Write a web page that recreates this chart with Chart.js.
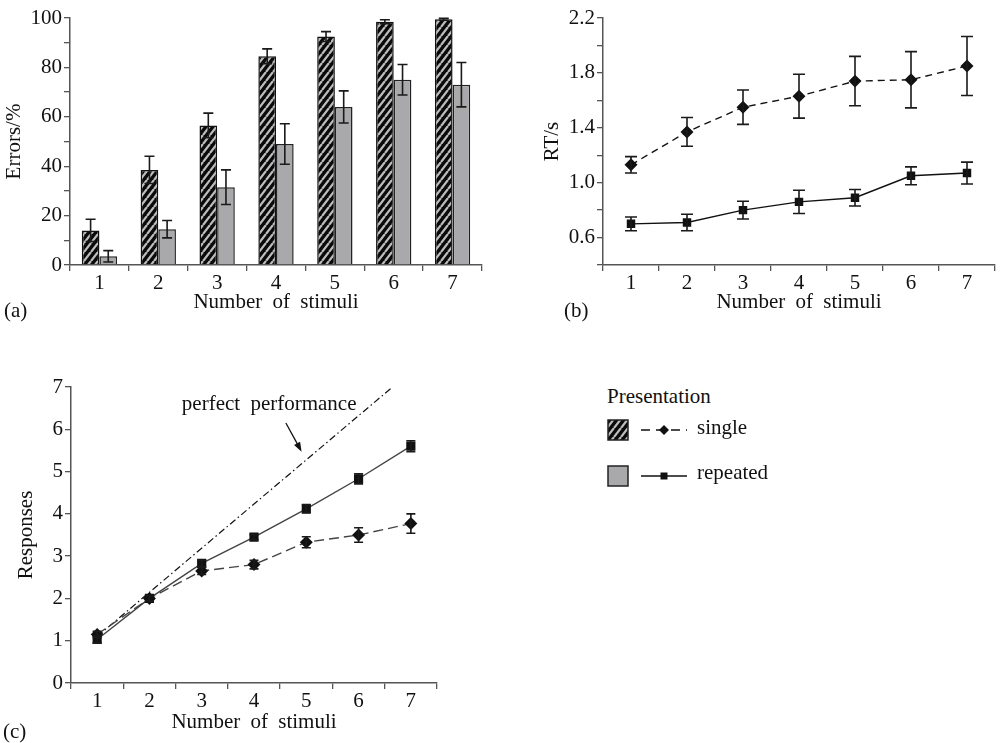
<!DOCTYPE html>
<html>
<head>
<meta charset="utf-8">
<script src="https://cdn.jsdelivr.net/npm/chart.js@4.4.1/dist/chart.umd.min.js"></script>
<style>
  body { margin: 0; background: #fff; width: 1005px; height: 743px; position: relative; overflow: hidden;
         font-family: "Liberation Serif", "Times New Roman", serif; color: #111; }
  canvas { position: absolute; }
  .lbl { position: absolute; font-size: 21px; word-spacing: 5px; line-height: 21px; white-space: nowrap; }
</style>
</head>
<body>
<canvas id="chartA" width="500" height="320" style="left:0;top:0"></canvas>
<canvas id="chartB" width="465" height="320" style="left:540px;top:0"></canvas>
<canvas id="chartC" width="460" height="413" style="left:0;top:330px"></canvas>

<div class="lbl" style="left:4px;top:300px">(a)</div>
<div class="lbl" style="left:564px;top:300px">(b)</div>
<div class="lbl" style="left:3px;top:721px">(c)</div>

<div class="lbl" style="left:607px;top:386px">Presentation</div>
<canvas id="keySingleBox" width="22" height="22" style="left:607px;top:419px"></canvas>
<canvas id="keySingleLine" width="48" height="14" style="left:640px;top:423px"></canvas>
<div class="lbl" style="left:697px;top:417px">single</div>
<canvas id="keyRepBox" width="22" height="22" style="left:607px;top:465px"></canvas>
<canvas id="keyRepLine" width="48" height="14" style="left:640px;top:469px"></canvas>
<div class="lbl" style="left:697px;top:462px">repeated</div>

<script>
var categories = ['1', '2', '3', '4', '5', '6', '7'];

// (a) errors in %
var errSingle = [14, 38.5, 56.5, 84.5, 92.5, 98.5, 99.5];
var errSingleSd = [4.5, 5.5, 5, 3, 2, 0.8, 0.4];
var errRepeated = [3.5, 14.5, 31.5, 49, 64, 75, 73];
var errRepeatedSd = [2.3, 3.5, 7, 8.2, 6.5, 6.2, 9];

// (b) reaction time in s
var rtSingle = [1.13, 1.37, 1.55, 1.63, 1.74, 1.75, 1.85];
var rtSingleSd = [0.06, 0.105, 0.125, 0.16, 0.18, 0.205, 0.215];
var rtRepeated = [0.70, 0.71, 0.80, 0.86, 0.89, 1.05, 1.07];
var rtRepeatedSd = [0.05, 0.06, 0.065, 0.085, 0.06, 0.065, 0.08];

// (c) number of responses
var respSingle = [1.15, 2.0, 2.65, 2.8, 3.33, 3.5, 3.77];
var respSingleSd = [0.07, 0.06, 0.08, 0.1, 0.13, 0.17, 0.23];
var respRepeated = [1.03, 2.0, 2.83, 3.45, 4.12, 4.83, 5.6];
var respRepeatedSd = [0.08, 0.07, 0.07, 0.06, 0.1, 0.12, 0.13];
var perfectX = [1, 6.65];
var perfectY = [1.1, 7];
var noteAt = [4.29, 6.59];
var arrowFrom = [4.61, 6.15];
var arrowTo = [4.91, 5.47];

var ink = '#111';
var axisGrey = '#555';
var barGrey = '#a9a9ab';
var fontFamily = '"Liberation Serif", "Times New Roman", serif';

Chart.defaults.font.family = fontFamily;
Chart.defaults.font.size = 21;
Chart.defaults.color = ink;
Chart.defaults.animation = false;

function hatchPattern() {
  var c = document.createElement('canvas');
  c.width = 7; c.height = 9;
  var g = c.getContext('2d');
  g.fillStyle = '#0a0a0a';
  g.fillRect(0, 0, 7, 9);
  g.strokeStyle = '#bdbdbd';
  g.lineWidth = 2.3;
  g.beginPath();
  for (var k = -1; k <= 1; k++) {
    g.moveTo(k * 7, 9);
    g.lineTo(k * 7 + 7, 0);
  }
  g.stroke();
  return g.createPattern(c, 'repeat');
}
var hatch = hatchPattern();

function setSpacing(ctx) {
  if ('wordSpacing' in ctx) ctx.wordSpacing = '5px';
}
var spacing = {
  id: 'spacing',
  beforeLayout: function(chart) { setSpacing(chart.ctx); },
  beforeDraw: function(chart) { setSpacing(chart.ctx); }
};

var errorBars = {
  id: 'errorBars',
  afterDatasetsDraw: function(chart) {
    var ctx = chart.ctx, ys = chart.scales.y;
    chart.data.datasets.forEach(function(ds, i) {
      if (!ds.errors) return;
      var meta = chart.getDatasetMeta(i);
      var c = ds.capWidth / 2;
      ctx.save();
      ctx.strokeStyle = '#1a1a1a';
      ctx.lineWidth = 1.6;
      meta.data.forEach(function(el, j) {
        var x = el.x;
        var top = ys.getPixelForValue(ds.data[j] + ds.errors[j]);
        var bot = ys.getPixelForValue(ds.data[j] - ds.errors[j]);
        ctx.beginPath();
        ctx.moveTo(x, top); ctx.lineTo(x, bot);
        ctx.moveTo(x - c, top); ctx.lineTo(x + c, top);
        ctx.moveTo(x - c, bot); ctx.lineTo(x + c, bot);
        ctx.stroke();
      });
      ctx.restore();
    });
  }
};

function xAxis(height) {
  return {
    type: 'category',
    offset: true,
    grid: { offset: true, drawOnChartArea: false, tickLength: 6, color: axisGrey, lineWidth: 1.3 },
    border: { color: axisGrey, width: 1.5 },
    ticks: { padding: 0, maxRotation: 0 },
    title: { display: true, text: 'Number of stimuli', padding: 0 },
    afterFit: function(s) { s.height = height; }
  };
}

function yAxis(opts) {
  return {
    min: opts.min, max: opts.max,
    grid: { drawOnChartArea: false, tickLength: 6, color: axisGrey, lineWidth: 1.3 },
    border: { color: axisGrey, width: 1.5 },
    ticks: { stepSize: opts.step, autoSkip: false, padding: 2, callback: opts.label },
    title: { display: true, text: opts.title, padding: { top: opts.titlePad } },
    afterFit: function(s) { s.width = opts.width; }
  };
}

// (a) bar chart
new Chart(document.getElementById('chartA'), {
  type: 'bar',
  data: {
    labels: categories,
    datasets: [
      { label: 'single', data: errSingle, errors: errSingleSd, capWidth: 10,
        backgroundColor: hatch, borderColor: ink, borderWidth: 1.5,
        categoryPercentage: 0.6, barPercentage: 1 },
      { label: 'repeated', data: errRepeated, errors: errRepeatedSd, capWidth: 10,
        backgroundColor: barGrey, borderColor: '#222', borderWidth: 1.5,
        categoryPercentage: 0.6, barPercentage: 1 }
    ]
  },
  options: {
    responsive: false,
    layout: { padding: { left: 0, top: 18, right: 18, bottom: 5 } },
    plugins: { legend: { display: false }, tooltip: { enabled: false } },
    scales: {
      x: xAxis(50),
      y: yAxis({ min: 0, max: 100, step: 10, width: 70, title: 'Errors/%', titlePad: 2,
                 label: function(v) { return v % 20 === 0 ? v : ''; } })
    }
  },
  plugins: [spacing, errorBars]
});

// (b) reaction times
new Chart(document.getElementById('chartB'), {
  type: 'line',
  data: {
    labels: categories,
    datasets: [
      { label: 'single', data: rtSingle, errors: rtSingleSd, capWidth: 12,
        borderColor: ink, borderWidth: 1.4, borderDash: [7, 5], tension: 0,
        pointStyle: 'rectRot', pointRadius: 5.5, pointBackgroundColor: ink, pointBorderColor: ink },
      { label: 'repeated', data: rtRepeated, errors: rtRepeatedSd, capWidth: 12,
        borderColor: ink, borderWidth: 1.4, tension: 0,
        pointStyle: 'rect', pointRadius: 5, pointBackgroundColor: ink, pointBorderColor: ink }
    ]
  },
  options: {
    responsive: false,
    layout: { padding: { left: 0, top: 18, right: 10, bottom: 5 } },
    plugins: { legend: { display: false }, tooltip: { enabled: false } },
    scales: {
      x: xAxis(50),
      y: yAxis({ min: 0.4, max: 2.2, step: 0.2, width: 63, title: 'RT/s', titlePad: 0,
                 label: function(v) {
                   var k = Math.round((v - 0.6) / 0.4 * 100) / 100;
                   return (v > 0.5 && k === Math.round(k)) ? v.toFixed(1) : '';
                 } })
    }
  },
  plugins: [spacing, errorBars]
});

// (c) responses with the perfect-performance line
var perfectNote = {
  id: 'perfectNote',
  afterDraw: function(chart) {
    var ctx = chart.ctx, xs = chart.scales.xl, ys = chart.scales.y;
    ctx.save();
    setSpacing(ctx);
    ctx.font = '21px ' + fontFamily;
    ctx.fillStyle = ink;
    ctx.textAlign = 'center';
    ctx.textBaseline = 'middle';
    ctx.fillText('perfect performance', xs.getPixelForValue(noteAt[0]), ys.getPixelForValue(noteAt[1]));
    var x1 = xs.getPixelForValue(arrowFrom[0]), y1 = ys.getPixelForValue(arrowFrom[1]);
    var x2 = xs.getPixelForValue(arrowTo[0]), y2 = ys.getPixelForValue(arrowTo[1]);
    var a = Math.atan2(y2 - y1, x2 - x1);
    ctx.strokeStyle = ink;
    ctx.lineWidth = 1.3;
    ctx.beginPath();
    ctx.moveTo(x1, y1);
    ctx.lineTo(x2 - 6 * Math.cos(a), y2 - 6 * Math.sin(a));
    ctx.stroke();
    ctx.beginPath();
    ctx.moveTo(x2, y2);
    ctx.lineTo(x2 - 10 * Math.cos(a - 0.35), y2 - 10 * Math.sin(a - 0.35));
    ctx.lineTo(x2 - 10 * Math.cos(a + 0.35), y2 - 10 * Math.sin(a + 0.35));
    ctx.closePath();
    ctx.fill();
    ctx.restore();
  }
};

new Chart(document.getElementById('chartC'), {
  type: 'line',
  data: {
    labels: categories,
    datasets: [
      { label: 'perfect performance', xAxisID: 'xl', order: 3,
        data: perfectX.map(function(x, i) { return { x: x, y: perfectY[i] }; }),
        borderColor: ink, borderWidth: 1.2, borderDash: [7, 3, 1.5, 3], pointRadius: 0 },
      { label: 'single', data: respSingle, errors: respSingleSd, capWidth: 9, order: 2,
        borderColor: '#444', borderWidth: 1.4, borderDash: [10, 5], tension: 0,
        pointStyle: 'rectRot', pointRadius: 5.5, pointBackgroundColor: ink, pointBorderColor: ink },
      { label: 'repeated', data: respRepeated, errors: respRepeatedSd, capWidth: 9, order: 1,
        borderColor: '#444', borderWidth: 1.4, tension: 0,
        pointStyle: 'rect', pointRadius: 5.5, pointBackgroundColor: ink, pointBorderColor: ink }
    ]
  },
  options: {
    responsive: false,
    layout: { padding: { left: 0, top: 57, right: 23, bottom: 8 } },
    plugins: { legend: { display: false }, tooltip: { enabled: false } },
    scales: {
      x: xAxis(52),
      xl: { type: 'linear', display: false, min: 0.5, max: 7.5 },
      y: yAxis({ min: 0, max: 7, step: 1, width: 71, title: 'Responses', titlePad: 14,
                 label: function(v) { return v; } })
    }
  },
  plugins: [spacing, errorBars, perfectNote]
});

// legend keys
function keyBox(id, fill) {
  var g = document.getElementById(id).getContext('2d');
  g.fillStyle = fill;
  g.fillRect(1, 1, 20, 20);
  g.strokeStyle = '#222';
  g.lineWidth = 1.5;
  g.strokeRect(1, 1, 20, 20);
}
function keyLine(id, dash, marker) {
  var g = document.getElementById(id).getContext('2d');
  g.strokeStyle = ink;
  g.fillStyle = ink;
  g.lineWidth = 1.3;
  g.setLineDash(dash);
  g.beginPath();
  g.moveTo(1, 7); g.lineTo(47, 7);
  g.stroke();
  g.setLineDash([]);
  g.beginPath();
  if (marker === 'diamond') {
    g.moveTo(24, 2); g.lineTo(29, 7); g.lineTo(24, 12); g.lineTo(19, 7);
  } else {
    g.rect(20.5, 3.5, 7, 7);
  }
  g.fill();
}
keyBox('keySingleBox', hatch);
keyBox('keyRepBox', barGrey);
keyLine('keySingleLine', [9, 6], 'diamond');
keyLine('keyRepLine', [], 'square');
</script>
</body>
</html>
